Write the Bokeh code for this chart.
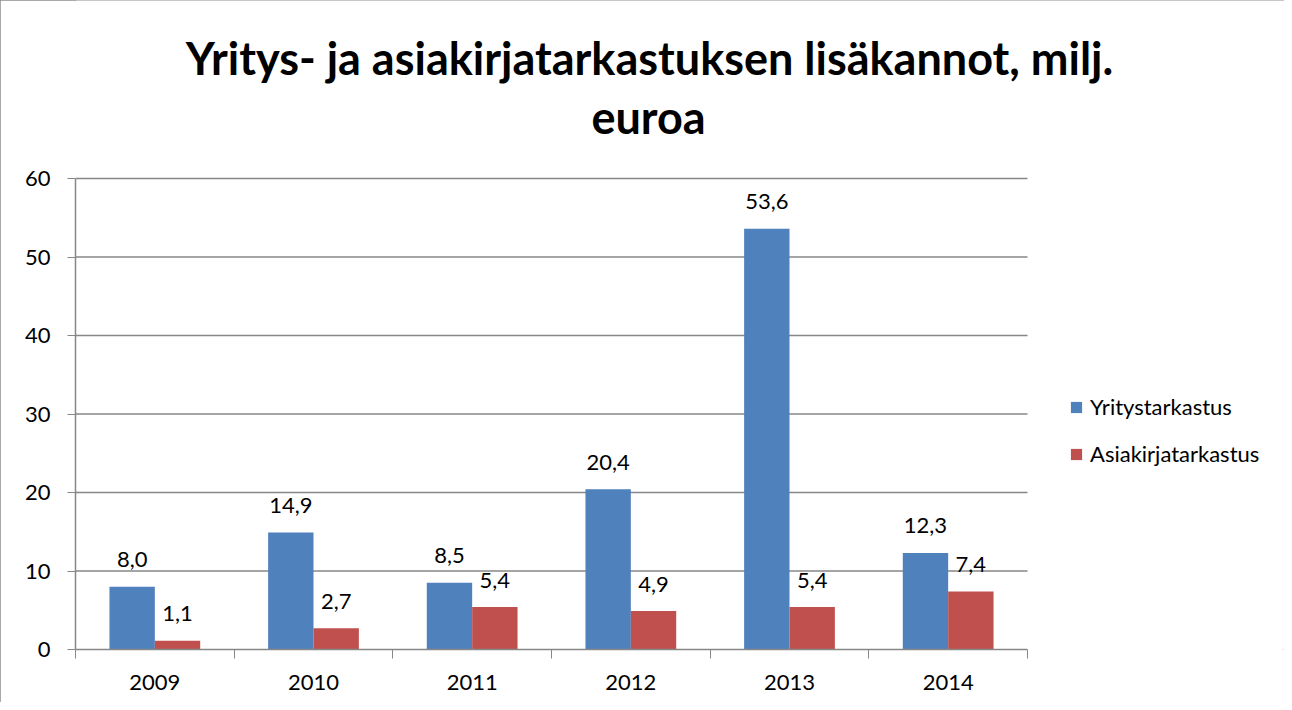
import numpy as np
from bokeh.plotting import figure
from bokeh.models import (ColumnDataSource, FixedTicker, Label, Legend, LegendItem, Range1d)
from bokeh.core.properties import value
from bokeh.embed import file_html
from bokeh.resources import INLINE

years = ["2009", "2010", "2011", "2012", "2013", "2014"]
yritys = [8.0, 14.9, 8.5, 20.4, 53.6, 12.3]
asiakirja = [1.1, 2.7, 5.4, 4.9, 5.4, 7.4]
series_names = ["Yritystarkastus", "Asiakirjatarkastus"]
y_ticks = [0, 10, 20, 30, 40, 50, 60]
title_lines = ["Yritys- ja asiakirjatarkastuksen lisäkannot, milj.", "euroa"]

BLUE = "#4F81BD"
RED = "#C0504D"
GRID = "#878787"
FONT = "Lato"

# layout (pixels)
W, H = 1284, 702
PLOT_L, PLOT_R, PLOT_T, PLOT_B = 75, 1027, 178, 649

n = len(years)
y_max = y_ticks[-1]
px_x = (PLOT_R - PLOT_L) / n
px_y = (PLOT_B - PLOT_T) / y_max
x_end = (W - PLOT_L) / px_x
y_end = PLOT_B / px_y

centers = np.arange(n) + 0.5
bw = 0.286
fmt = lambda v: f"{v:.1f}".replace(".", ",")

src_a = ColumnDataSource(dict(x=centers - bw / 2, top=yritys, lab=[fmt(v) for v in yritys]))
src_b = ColumnDataSource(dict(x=centers + bw / 2, top=asiakirja, lab=[fmt(v) for v in asiakirja]))

p = figure(width=W, height=H, output_backend="svg", toolbar_location=None,
           x_range=Range1d(0, x_end), y_range=Range1d(0, y_end),
           min_border_left=PLOT_L, min_border_right=0, min_border_top=0,
           min_border_bottom=H - PLOT_B)
p.outline_line_color = None
p.background_fill_color = "white"
p.border_fill_color = "white"
p.styles = {"outline": "2px solid #8c8c8c", "outline-offset": "-2px"}

# horizontal gridlines at the y ticks, spanning the category area
p.segment(x0=0, x1=n, y0=y_ticks[1:], y1=y_ticks[1:], line_color=GRID, line_width=1.5)

r1 = p.vbar(x="x", top="top", width=bw, source=src_a, fill_color=BLUE, line_color=None)
r2 = p.vbar(x="x", top="top", width=bw, source=src_b, fill_color=RED, line_color=None)

for src in (src_a, src_b):
    p.text(x="x", y="top", text="lab", source=src, text_align="center",
           text_baseline="middle", y_offset=-27, text_font=value(FONT),
           text_font_size="22px", text_color="black")

# axes
p.xaxis.ticker = FixedTicker(ticks=list(centers), minor_ticks=list(range(n + 1)))
p.xaxis.major_label_overrides = {float(c): y for c, y in zip(centers, years)}
p.xaxis.bounds = (0, n)
p.xaxis.major_tick_line_color = None
p.xaxis.minor_tick_line_color = GRID
p.xaxis.minor_tick_out = 9
p.xaxis.minor_tick_in = 0
p.xaxis.major_label_standoff = 16
p.yaxis.ticker = FixedTicker(ticks=y_ticks)
p.yaxis.bounds = (0, y_max)
p.yaxis.minor_tick_line_color = None
p.yaxis.major_tick_out = 8
p.yaxis.major_tick_in = 0
p.yaxis.major_tick_line_color = GRID
p.yaxis.major_label_standoff = 17
for ax in (p.xaxis, p.yaxis):
    ax.axis_line_color = GRID
    ax.axis_line_width = 1.5
    ax.major_label_text_font = FONT
    ax.major_label_text_font_size = "22px"
    ax.major_label_text_color = "black"
p.xgrid.grid_line_color = None
p.ygrid.grid_line_color = None

# title (two lines), positioned by text middle
for txt, cx, mid in ((title_lines[0], 649, 57), (title_lines[1], 648, 116)):
    p.add_layout(Label(x=cx - PLOT_L, y=PLOT_B - mid, x_units="screen", y_units="screen",
                       text=txt, text_align="center", text_baseline="middle",
                       text_font=FONT, text_font_style="bold", text_font_size="45px",
                       text_color="black"))

legend = Legend(items=[LegendItem(label=series_names[0], renderers=[r1]),
                       LegendItem(label=series_names[1], renderers=[r2])],
                location=(1069 - PLOT_L, 182), orientation="vertical",
                glyph_width=14, glyph_height=14, label_standoff=7, spacing=20,
                padding=0, margin=0, border_line_color=None, background_fill_alpha=0,
                label_text_font=FONT, label_text_font_size="22px", label_text_color="black")
p.add_layout(legend)

open("out.html", "w").write(file_html(p, INLINE))
